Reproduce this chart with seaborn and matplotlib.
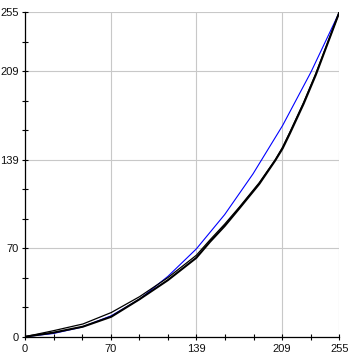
import matplotlib
matplotlib.use("Agg")
import matplotlib.pyplot as plt
import seaborn as sns
import pandas as pd

# ---- data ----
blue_x = [0, 23, 46, 70, 93, 116, 139, 162, 185, 209, 232, 255]
blue_y = [0, 2.5, 7.5, 16.5, 29.5, 47.5, 69, 96, 128, 166, 208, 255]

black_a_x = [0, 23, 47, 70, 93, 116, 139, 150, 162, 174, 190, 203, 209, 215, 226, 236, 255]
black_a_y = [0, 4.7, 10, 19, 31.5, 46.5, 64, 76, 88.5, 102, 121, 139, 149, 161, 184, 207, 255]

black_b_x = [0, 23, 47, 70, 93, 116, 139, 150, 162, 174, 190, 203, 209, 215, 226, 236, 255]
black_b_y = [0, 3.2, 7.9, 15.7, 29.5, 44.5, 62, 74.5, 87, 101, 120, 138.5, 148, 160, 183, 206, 255]

tick_labels = ["0", "70", "139", "209", "255"]
major_steps = [0, 3, 6, 9, 11]
n_steps = 11
vmax = 255

df_blue = pd.DataFrame({"x": blue_x, "y": blue_y})
df_a = pd.DataFrame({"x": black_a_x, "y": black_a_y})
df_b = pd.DataFrame({"x": black_b_x, "y": black_b_y})

sns.set_style("white")
plt.rcParams["font.family"] = ["Liberation Sans", "DejaVu Sans"]

fig = plt.figure(figsize=(3.51, 3.57), dpi=100)
ax = fig.add_axes([25 / 351, (357 - 336.7) / 357, (339.3 - 25) / 351, (336.7 - 12.3) / 357])

sns.lineplot(data=df_blue, x="x", y="y", ax=ax, color="#0000ff", linewidth=0.8, sort=False, zorder=3)
sns.lineplot(data=df_a, x="x", y="y", ax=ax, color="black", linewidth=0.9, sort=False, zorder=4)
sns.lineplot(data=df_b, x="x", y="y", ax=ax, color="black", linewidth=1.5, sort=False, zorder=4)

ax.set_xlim(0, vmax)
ax.set_ylim(0, vmax)

major_pos = [s * vmax / n_steps for s in major_steps]
minor_pos = [s * vmax / n_steps for s in range(n_steps + 1) if s not in major_steps]

for axis in (ax.xaxis, ax.yaxis):
    axis.set_ticks(major_pos)
    axis.set_ticklabels(tick_labels)
    axis.set_ticks(minor_pos, minor=True)

ax.tick_params(which="both", bottom=True, left=True, top=False, right=False,
               direction="inout", length=5, width=0.8, color="black",
               labelsize=8, labelcolor="#111111", pad=2)
ax.tick_params(axis="x", which="major", pad=3)

ax.grid(True, which="major", color="#c8c8c8", linewidth=0.8, zorder=0)
ax.grid(False, which="minor")
ax.set_axisbelow(True)

for side in ("top", "right"):
    ax.spines[side].set_visible(False)
for side in ("left", "bottom"):
    ax.spines[side].set_color("black")
    ax.spines[side].set_linewidth(0.9)
    ax.spines[side].set_zorder(5)

ax.set_xlabel("")
ax.set_ylabel("")

fig.savefig("out.png", dpi=100)
